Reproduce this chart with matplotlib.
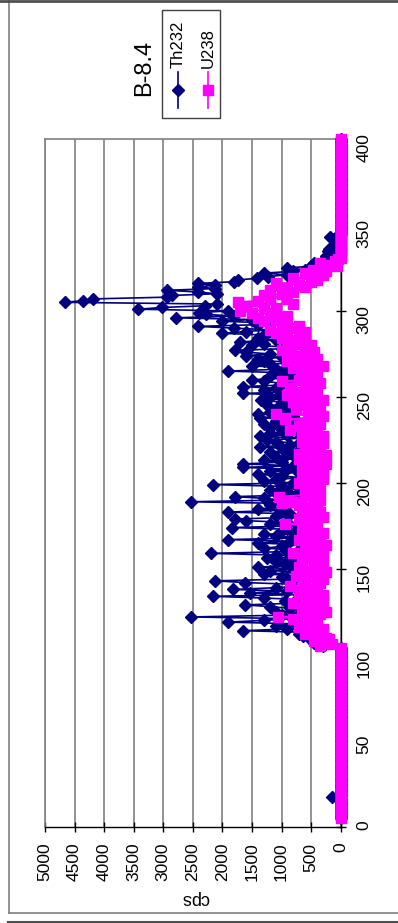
import numpy as np
import matplotlib.pyplot as plt
from matplotlib.patches import Rectangle

plt.rcParams['font.family'] = ['Liberation Sans', 'DejaVu Sans']

# depth positions, one reading per unit from 5 to 400
depth = np.arange(5, 401)

th232 = [
    # 5-104
    0, 0, 0, 0, 0, 0, 0, 0, 0, 0, 0, 0, 150, 0, 0, 0, 0, 0, 0, 0,
    0, 0, 0, 0, 0, 0, 0, 0, 0, 0, 0, 0, 0, 0, 0, 0, 0, 0, 0, 0,
    0, 0, 0, 0, 0, 0, 0, 0, 0, 0, 0, 0, 0, 0, 0, 0, 0, 0, 0, 0,
    0, 0, 0, 0, 0, 0, 0, 0, 0, 0, 0, 0, 0, 0, 0, 0, 0, 0, 0, 0,
    0, 0, 0, 0, 0, 0, 0, 0, 0, 0, 0, 0, 0, 0, 0, 0, 0, 0, 0, 0,
    # 105-330
    300, 260, 450, 264, 520, 380, 637, 700, 500, 1650,
    900, 600, 1100, 750, 1905, 1300, 800, 2530, 1000, 700,
    1100, 550, 850, 1200, 1615, 800, 950, 600, 1300, 2165,
    700, 1530, 900, 1820, 1100, 650, 800, 1615, 2125, 900,
    1000, 750, 1300, 600, 1200, 800, 1400, 700, 950, 1100,
    800, 1250, 600, 1100, 2190, 900, 700, 1300, 1000, 650,
    1400, 850, 1900, 650, 1100, 1300, 800, 1000, 900, 1845,
    700, 1200, 900, 1600, 1790, 700, 1100, 850, 1900, 1000,
    1400, 600, 1200, 900, 2530, 1000, 1300, 1790, 750, 1100,
    900, 1200, 700, 1000, 2165, 800, 1300, 1100, 650, 1000,
    1400, 700, 1200, 900, 1650, 800, 1650, 1000, 1300, 650,
    1100, 800, 900, 1200, 700, 1000, 1370, 850, 700, 1100,
    1250, 600, 1370, 900, 1200, 750, 1000, 1200, 850, 1300,
    700, 1100, 1000, 1370, 800, 1400, 1200, 900, 1100, 800,
    1250, 650, 1000, 1350, 900, 1200, 1000, 1650, 750, 1300,
    1100, 1650, 900, 1000, 1300, 1500, 800, 1200, 1000, 900,
    1900, 1100, 900, 1500, 1200, 700, 1300, 1400, 1000, 1600,
    1200, 1600, 1790, 1000, 900, 1500, 1300, 1700, 1100, 1400,
    1000, 1300, 2010, 1600, 1200, 1800, 2410, 1400, 1200, 2010,
    1500, 2790, 1800, 2270, 2400, 1900, 3420, 3030, 2300, 2100,
    4670, 4350, 4180, 2940, 2850, 2100, 2410, 2937, 2125, 2413,
    2125, 2410, 1800, 1737, 1415, 1229, 908, 1300, 800, 600,
    910, 500, 385, 450, 300, 200,
    # 331-400
    150, 250, 200, 150, 220, 200, 120, 100, 80, 50, 60, 120, 180, 40,
    0, 0, 0, 0, 0, 0, 0, 0, 0, 0, 0, 0, 0, 0,
    0, 0, 0, 0, 0, 0, 0, 0, 0, 0, 0, 0, 0, 0,
    0, 0, 0, 0, 0, 0, 0, 0, 0, 0, 0, 0, 0, 0,
    0, 0, 0, 0, 0, 0, 0, 0, 0, 0, 0, 0, 0, 0,
]

u238 = [
    # 5-104
    0, 0, 0, 0, 0, 0, 0, 0, 0, 0, 0, 0, 0, 0, 0, 0, 0, 0, 0, 0,
    0, 0, 0, 0, 0, 0, 0, 0, 0, 0, 0, 0, 0, 0, 0, 0, 0, 0, 0, 0,
    0, 0, 0, 0, 0, 0, 0, 0, 0, 0, 0, 0, 0, 0, 0, 0, 0, 0, 0, 0,
    0, 0, 0, 0, 0, 0, 0, 0, 0, 0, 0, 0, 0, 0, 0, 0, 0, 0, 0, 0,
    0, 0, 0, 0, 0, 0, 0, 0, 0, 0, 0, 0, 0, 0, 0, 0, 0, 0, 0, 0,
    # 105-330
    350, 150, 264, 450, 200, 250, 400, 600, 300, 500,
    300, 700, 450, 400, 550, 600, 800, 1060, 500, 350,
    250, 650, 400, 350, 550, 800, 300, 450, 600, 550,
    300, 700, 450, 500, 650, 850, 400, 350, 600, 300,
    400, 750, 600, 250, 500, 350, 700, 650, 450, 300,
    350, 650, 500, 450, 800, 300, 550, 400, 600, 250,
    550, 400, 700, 350, 450, 600, 300, 450, 650, 500,
    450, 950, 400, 500, 700, 300, 600, 650, 350, 500,
    400, 550, 700, 1000, 800, 350, 450, 1050, 600, 400,
    450, 350, 600, 500, 400, 700, 550, 300, 650, 450,
    300, 550, 450, 650, 350, 500, 250, 600, 400, 700,
    500, 250, 700, 400, 600, 350, 550, 450, 300, 650,
    350, 500, 300, 650, 450, 550, 850, 400, 700, 350,
    600, 450, 950, 500, 300, 1100, 400, 550, 750, 350,
    600, 450, 800, 300, 650, 500, 900, 400, 700, 550,
    850, 450, 600, 350, 1000, 700, 500, 400, 650, 550,
    600, 450, 800, 300, 650, 500, 900, 400, 700, 550,
    850, 450, 1000, 600, 900, 500, 700, 800, 600, 1000,
    700, 900, 1100, 600, 1200, 800, 700, 1000, 900, 1300,
    1100, 1400, 900, 1200, 1500, 1700, 1100, 1300, 1600, 800,
    1735, 1400, 1200, 900, 1300, 1000, 800, 1200, 900, 600,
    700, 1100, 500, 400, 800, 450, 300, 600, 250, 470,
    300, 60, 200, 350, 100, 50,
    # 331-400
    0, 0, 0, 0, 0, 0, 0, 0, 0, 0, 0, 0, 0, 0,
    0, 0, 0, 0, 0, 0, 0, 0, 0, 0, 0, 0, 0, 0,
    0, 0, 0, 0, 0, 0, 0, 0, 0, 0, 0, 0, 0, 0,
    0, 0, 0, 0, 0, 0, 0, 0, 0, 0, 0, 0, 0, 0,
    0, 0, 0, 0, 0, 0, 0, 0, 0, 0, 0, 0, 0, 0,
]

cps_ticks = list(range(0, 5001, 500))
depth_ticks = list(range(0, 401, 50))

W, H = 398, 923
fig = plt.figure(figsize=(W / 100, H / 100), dpi=100)
fig.patch.set_facecolor('white')

# chart is laid on its side: depth runs up, cps runs right-to-left
ax = fig.add_axes([45 / W, 1 - 826.7 / H, (340.7 - 45) / W, (826.7 - 139) / H])
ax.plot(th232, depth, color='#000080', lw=1.2, marker='D', ms=5.8,
        mec='#000080', clip_on=False, zorder=3)
ax.plot(u238, depth, color='#FF00FF', lw=1.2, marker='s', ms=7.5,
        mec='#FF00FF', clip_on=False, zorder=4)

ax.set_xlim(5000, 0)
ax.set_ylim(0, 400)
ax.set_xticks(cps_ticks)
ax.set_yticks(depth_ticks)
ax.xaxis.grid(True, color='#808080', lw=1.2)
ax.set_axisbelow(True)
ax.yaxis.tick_right()
ax.tick_params(axis='x', direction='inout', length=7, width=1,
               labelsize=12.5, labelrotation=90, pad=8)
ax.tick_params(axis='y', direction='inout', length=7, width=1,
               labelsize=12.5, labelrotation=90, pad=8)
for side in ['right', 'bottom']:
    ax.spines[side].set_color('black')
    ax.spines[side].set_linewidth(1)
for side in ['top', 'left']:
    ax.spines[side].set_color('#808080')
    ax.spines[side].set_linewidth(1.2)

# overlay in pixel units for frame, title and legend
ov = fig.add_axes([0, 0, 1, 1])
ov.set_xlim(0, W)
ov.set_ylim(H, 0)
ov.axis('off')
ov.patch.set_alpha(0)

ov.plot([9, 9], [0, 913], color='#808080', lw=1.2)
ov.plot([9, W], [913, 913], color='#808080', lw=1.2)
ov.plot([0, W], [0.8, 0.8], color='#505050', lw=2)
ov.plot([8, W], [921.5, 921.5], color='#505050', lw=1.5)

ov.text(195, 898, 'cps', rotation=180, ha='center', va='center', fontsize=13)
ov.text(144, 68, 'B-8.4', rotation=90, ha='center', va='center', fontsize=17)

ov.add_patch(Rectangle((162, 10), 58, 108, fill=False, ec='#404040', lw=1))
ov.plot([178, 178], [72, 108], color='#000080', lw=1.2)
ov.plot([178], [90], marker='D', ms=5.8, color='#000080')
ov.plot([208, 208], [72, 108], color='#FF00FF', lw=1.2)
ov.plot([208], [90], marker='s', ms=7.5, color='#FF00FF')
ov.text(178, 68, 'Th232', rotation=90, rotation_mode='anchor',
        ha='left', va='center', fontsize=12)
ov.text(208, 68, 'U238', rotation=90, rotation_mode='anchor',
        ha='left', va='center', fontsize=12)

fig.savefig('out.png', dpi=100)
